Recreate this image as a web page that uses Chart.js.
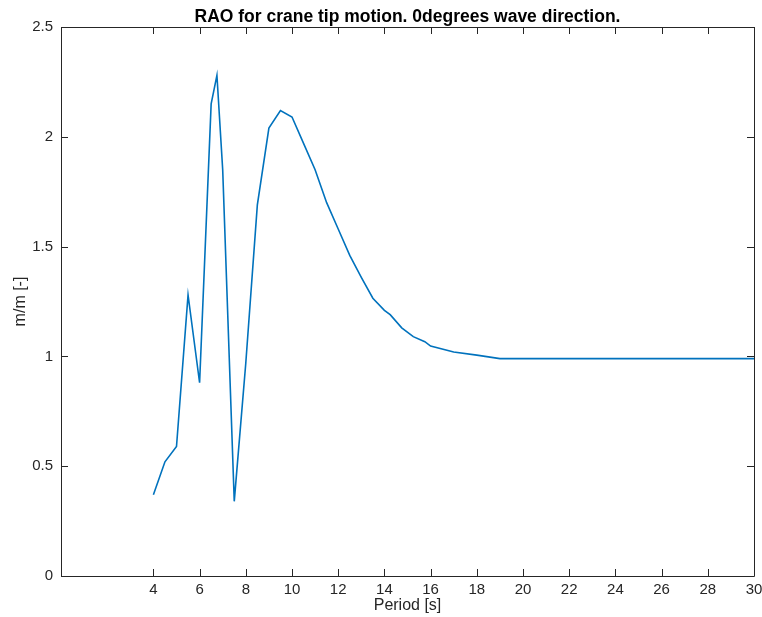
<!DOCTYPE html>
<html>
<head>
<meta charset="utf-8">
<script src="https://cdn.jsdelivr.net/npm/chart.js@4.4.1/dist/chart.umd.min.js"></script>
<style>
  html, body { margin: 0; padding: 0; background: #ffffff; }
  #wrap { width: 762px; height: 617px; }
</style>
</head>
<body>
<div id="wrap"><canvas id="rao"></canvas></div>
<script>
// periods [s] and RAO values [m/m]
const periods = [4, 4.5, 5, 5.5, 6, 6.5, 6.75, 7, 7.5, 8, 8.5, 9, 9.5, 10, 10.5, 11, 11.5, 12, 12.5, 13, 13.5, 14, 14.25, 14.75, 15.25, 15.75, 16, 17, 18, 19, 20, 22, 24, 26, 28, 30];
const rao = [0.37, 0.52, 0.59, 1.28, 0.88, 2.15, 2.28, 1.85, 0.34, 0.97, 1.69, 2.04, 2.12, 2.09, 1.97, 1.85, 1.70, 1.58, 1.46, 1.36, 1.265, 1.21, 1.19, 1.13, 1.09, 1.067, 1.047, 1.02, 1.006, 0.99, 0.99, 0.99, 0.99, 0.99, 0.99, 0.99];
const xTickValues = [4, 6, 8, 10, 12, 14, 16, 18, 20, 22, 24, 26, 28, 30];
const yTickValues = [0, 0.5, 1, 1.5, 2, 2.5];
const titleText = 'RAO for crane tip motion. 0degrees wave direction.';

const points = periods.map((p, i) => ({ x: p, y: rao[i] }));

// matlab style box with inward ticks on all four sides, title centred on the axes
const boxTicks = {
  id: 'boxTicks',
  afterDraw(chart) {
    const { ctx, chartArea: a, scales } = chart;
    const len = 7;
    ctx.save();
    ctx.strokeStyle = '#262626';
    ctx.lineWidth = 1;
    ctx.beginPath();
    ctx.rect(Math.round(a.left) + 0.5, Math.round(a.top) + 0.5, Math.round(a.right - a.left), Math.round(a.bottom - a.top));
    scales.x.ticks.forEach(t => {
      const px = Math.round(scales.x.getPixelForValue(t.value)) + 0.5;
      ctx.moveTo(px, a.bottom); ctx.lineTo(px, a.bottom - len);
      ctx.moveTo(px, a.top); ctx.lineTo(px, a.top + len);
    });
    scales.y.ticks.forEach(t => {
      const py = Math.round(scales.y.getPixelForValue(t.value)) + 0.5;
      ctx.moveTo(a.left, py); ctx.lineTo(a.left + len, py);
      ctx.moveTo(a.right, py); ctx.lineTo(a.right - len, py);
    });
    ctx.stroke();

    ctx.fillStyle = '#000000';
    ctx.font = 'bold 17.5px "Liberation Sans", Arial, sans-serif';
    ctx.textAlign = 'center';
    ctx.textBaseline = 'alphabetic';
    ctx.fillText(titleText, (a.left + a.right) / 2, 22);
    ctx.restore();
  }
};

Chart.defaults.font.family = '"Liberation Sans", Arial, sans-serif';
Chart.defaults.color = '#262626';

new Chart(document.getElementById('rao'), {
  type: 'scatter',
  data: {
    datasets: [{
      data: points,
      showLine: true,
      borderColor: '#0072BD',
      backgroundColor: '#0072BD',
      borderWidth: 1.6,
      pointRadius: 0,
      tension: 0
    }]
  },
  options: {
    responsive: true,
    maintainAspectRatio: false,
    animation: false,
    layout: { padding: { top: 27, left: 0, right: 0, bottom: 0 } },
    plugins: {
      legend: { display: false },
      tooltip: { enabled: false },
      title: { display: false }
    },
    scales: {
      x: {
        type: 'linear',
        min: 0,
        max: 30,
        afterBuildTicks: s => { s.ticks = xTickValues.map(v => ({ value: v })); },
        afterFit: s => { s.height = 41; s.paddingRight = 8; },
        grid: { display: false, drawTicks: false },
        border: { display: false },
        ticks: { font: { size: 15 }, padding: 5, maxRotation: 0, autoSkip: false },
        title: { display: true, text: 'Period [s]', font: { size: 16 }, padding: { top: 0, bottom: 2 } }
      },
      y: {
        min: 0,
        max: 2.5,
        afterBuildTicks: s => { s.ticks = yTickValues.map(v => ({ value: v })); },
        afterFit: s => { s.width = 61; },
        grid: { display: false, drawTicks: false },
        border: { display: false },
        ticks: { font: { size: 15 }, padding: 8, callback: v => String(v) },
        title: { display: true, text: 'm/m [-]', font: { size: 16 }, padding: { top: 11, bottom: 0 } }
      }
    }
  },
  plugins: [boxTicks]
});
</script>
</body>
</html>
